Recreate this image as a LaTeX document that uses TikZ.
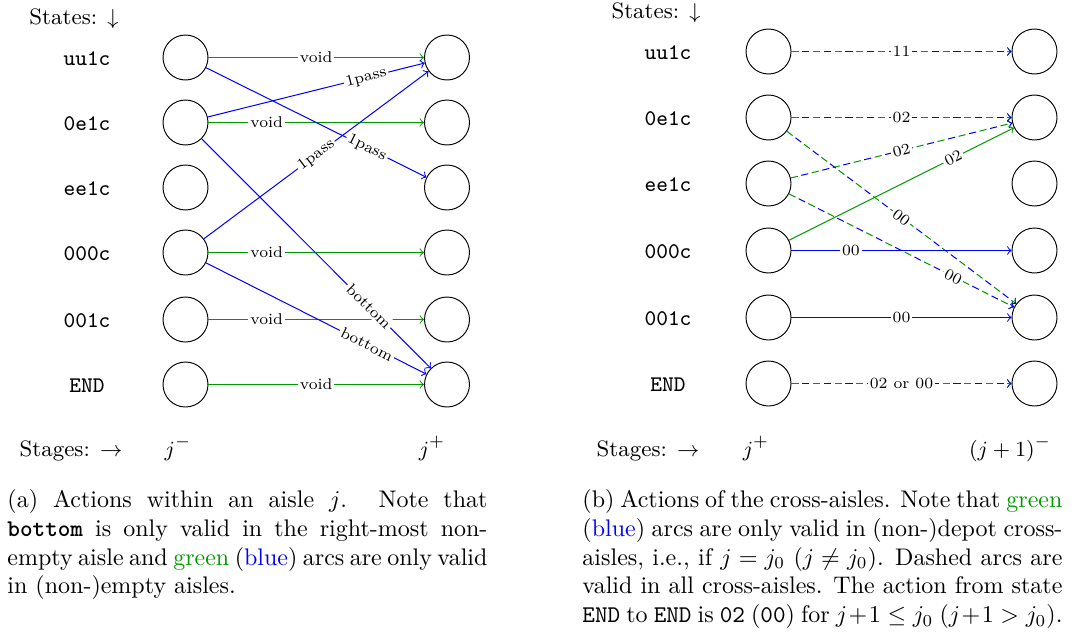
\documentclass[tikz,border=0pt]{standalone}
\usepackage{amsmath}
\definecolor{gr}{rgb}{0,0.6,0}
\begin{document}
\begin{tikzpicture}[x=0.416667pt, y=-0.416667pt,
  st/.style={circle, draw, minimum size=18.75pt, inner sep=0pt, line width=0.4pt},
  lab/.style={font=\fontsize{9.3}{11}\selectfont\ttfamily, inner sep=0pt},
  txt/.style={font=\fontsize{9.3}{11}\selectfont, anchor=base, inner sep=0pt},
  el/.style={sloped, fill=white, inner sep=0.8pt, font=\fontsize{6.5}{7}\selectfont},
  arr/.style={->, line width=0.42pt},
  gline/.style={arr, draw=gr},
  bline/.style={arr, draw=blue},
  gdash/.style={arr, draw=gr, dash pattern=on 3pt off 6pt},
  bdash/.style={arr, draw=blue, dash pattern=on 3pt off 6pt, dash phase=4.5pt},
  captxt/.style={anchor=north west, inner sep=0pt, align=justify, font=\fontsize{10}{12}\selectfont}
]
\useasboundingbox (0,0) rectangle (1089,635);

% ---------- left diagram ----------
\node[txt] (sta) at (74,24) {States: $\downarrow$};
\foreach \i/\y/\t in {1/57.5/uu1c, 2/122.5/0e1c, 3/187.5/ee1c, 4/252.5/000c, 5/319.5/001c, 6/384.5/END}{
  \node[lab] (la\i) at (87,\y+1) {\t};
  \node[st] (a\i) at (185.5,\y) {};
  \node[st] (b\i) at (447,\y) {};
}
\node[txt] (sga) at (71,456) {Stages: $\rightarrow$};
\node[txt] (jma) at (178,456) {$j^-$};
\node[txt] (jpa) at (432,456) {$j^+$};

\draw[gline] (a1) -- node[el]{void} (b1);
\draw[gline] (a2) -- node[el,pos=0.27]{void} (b2);
\draw[gline] (a4) -- node[el,pos=0.27]{void} (b4);
\draw[gline] (a5) -- node[el,pos=0.27]{void} (b5);
\draw[gline] (a6) -- node[el]{void} (b6);
\draw[bline] (a1) -- node[el,pos=0.73]{1pass} (b3);
\draw[bline] (a2) -- node[el,pos=0.73]{1pass} (b1);
\draw[bline] (a4) -- node[el]{1pass} (b1);
\draw[bline] (a2) -- node[el,pos=0.73]{bottom} (b6);
\draw[bline] (a4) -- node[el,pos=0.73]{bottom} (b6);

\node[captxt, text width=200pt] (capa) at (7,489) {(a) Actions within an aisle $j$. Note that\linebreak
\texttt{\bfseries bottom} is only valid in the right-most non-\linebreak
empty aisle and {\color{gr}green} ({\color{blue}blue}) arcs are only valid\linebreak
in (non-)empty aisles.};

% ---------- right diagram ----------
\node[txt] (stb) at (656,18) {States: $\downarrow$};
\foreach \i/\y/\t in {1/51.5/uu1c, 2/117.5/0e1c, 3/183.5/ee1c, 4/250.5/000c, 5/317.5/001c, 6/383.5/END}{
  \node[lab] (lb\i) at (668,\y+1) {\t};
  \node[st] (c\i) at (768.5,\y) {};
  \node[st] (d\i) at (1034.5,\y) {};
}
\node[txt] (sgb) at (648,456) {Stages: $\rightarrow$};
\node[txt] (jpb) at (756,456) {$j^+$};
\node[txt] (jnb) at (1010,456) {$(j+1)^-$};

\draw[gdash] (c1) -- (d1);
\draw[bdash] (c1) -- node[el]{11} (d1);
\draw[gdash] (c2) -- (d2);
\draw[bdash] (c2) -- node[el]{02} (d2);
\draw[gdash] (c3) -- (d2);
\draw[bdash] (c3) -- node[el]{02} (d2);
\draw[gline] (c4) -- node[el,pos=0.73]{02} (d2);
\draw[gdash] (c2) -- (d5);
\draw[bdash] (c2) -- node[el]{00} (d5);
\draw[gdash] (c3) -- (d5);
\draw[bdash] (c3) -- node[el,pos=0.73]{00} (d5);
\draw[bline] (c4) -- node[el,pos=0.27]{00} (d4);
\draw[bline] (c5) -- node[el]{00} (d5);
\draw[gdash] (c6) -- (d6);
\draw[bdash] (c6) -- node[el]{02 or 00} (d6);

\node[captxt, text width=200pt] (capb) at (582,489) {(b) Actions of the cross-aisles. Note that {\color{gr}green}\linebreak
({\color{blue}blue}) arcs are only valid in (non-)depot cross-\linebreak
aisles, i.e., if $j=j_0$ ($j\neq j_0$). Dashed arcs are\linebreak
valid in all cross-aisles. The action from state\linebreak
\texttt{END} to \texttt{END} is \texttt{02} (\texttt{00}) for $j+1\leq j_0$ ($j+1>j_0$).};
\end{tikzpicture}
\end{document}
